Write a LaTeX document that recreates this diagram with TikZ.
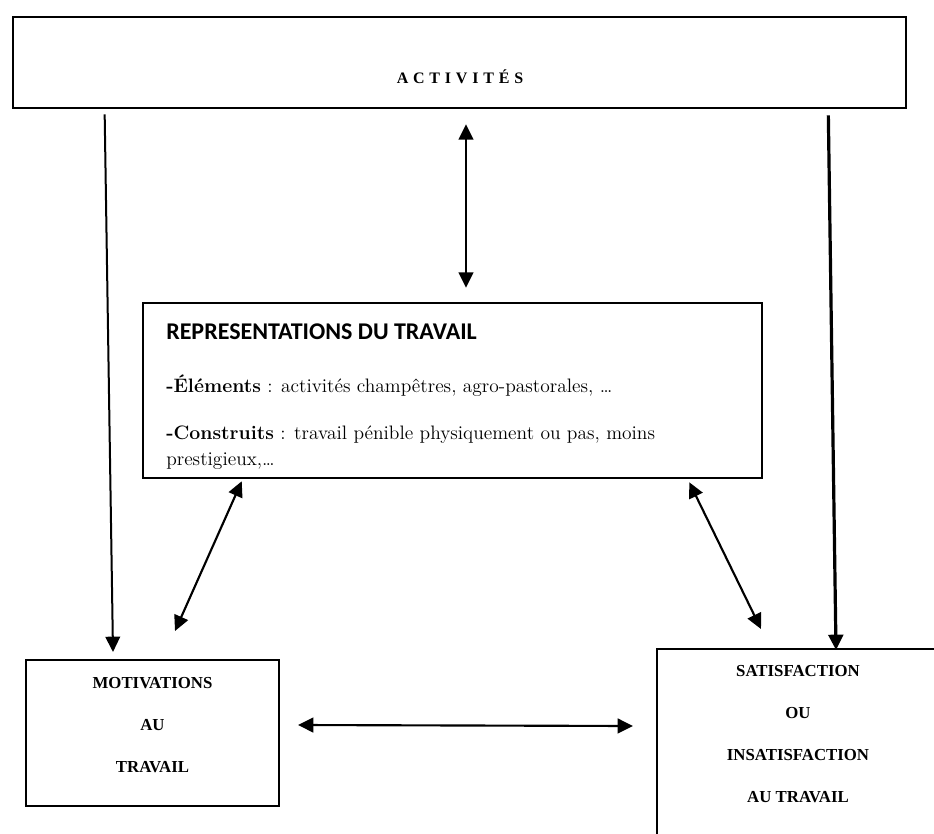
\documentclass[tikz,border=0pt]{standalone}
\usepackage{fontspec}
\newfontfamily\capsfont{Liberation Serif}
\newfontfamily\titlefont{Carlito}
\usepackage{tikz}
\usetikzlibrary{positioning,calc,arrows.meta}

\begin{document}
\begin{tikzpicture}[x=0.75pt,y=-0.75pt,
    box/.style={draw,rectangle,line width=1.5pt,inner sep=0pt},
    capstext/.style={align=center,inner sep=0pt,font=\capsfont\bfseries\fontsize{12.6}{31.5}\selectfont},
    oneway/.style={line width=1.5pt,-{Triangle[length=11.5pt,width=11pt]}},
    twoway/.style={line width=1.6pt,{Triangle[length=11.5pt,width=11pt]}-{Triangle[length=11.5pt,width=11pt]}}]
    \useasboundingbox (0,0) rectangle (934,834);
    \clip (0,0) rectangle (934,834);

    % top box
    \node[box,line width=2pt,minimum width=669.75pt,minimum height=68.25pt] (act) at (459.5,62.5) {};
    \node[inner sep=0pt,font=\capsfont\bfseries\fontsize{12}{14}\selectfont\addfontfeature{LetterSpace=30}] (acttxt) at (460,77) {ACTIVITÉS};

    % representations
    \node[box,line width=1.9pt,minimum width=464.25pt,minimum height=131.25pt] (repr) at (452.5,390.5) {};
    \node[anchor=north west,inner sep=0pt,align=left,font=\fontsize{14.6}{19.5}\selectfont] (reprtxt) at (166,323)
        {{\titlefont\bfseries\fontsize{18}{20}\selectfont REPRESENTATIONS DU TRAVAIL}\\[20.25pt]
         \textbf{-Éléments} : activités champêtres, agro-pastorales, \dots\\[15.75pt]
         \textbf{-Construits} : travail pénible physiquement ou pas, moins\\
         prestigieux,\dots};

    % bottom boxes
    \node[box,minimum width=189.75pt,minimum height=109.5pt] (mot) at (152.5,733) {};
    \node[capstext] (mottxt) at (152.5,725) {MOTIVATIONS\\AU\\TRAVAIL};
    \node[box,anchor=north west,minimum width=225pt,minimum height=150pt] (sat) at (656,648) {};
    \node[capstext] (sattxt) at (798,734) {SATISFACTION\\OU\\INSATISFACTION\\AU TRAVAIL};

    % links
    \draw[oneway] ([shift={(93,5)}]act.south west) -- ([shift={(88,-7)}]mot.north west);
    \draw[oneway,line width=2.4pt] ([shift={(-79,6)}]act.south east) -- ([shift={(180,2)}]sat.north west);
    \draw[twoway] ([shift={(6.5,15)}]act.south) -- ([shift={(13.5,-14)}]repr.north);
    \draw[twoway] ([shift={(100,2)}]repr.south west) -- ([shift={(22.5,-28)}]mot.north);
    \draw[twoway] ([shift={(-74,3)}]repr.south east) -- ([shift={(105,-19)}]sat.north west);
    \draw[twoway] ([shift={(18,-8)}]mot.east) -- ([shift={(-23,-23)}]sat.west);
\end{tikzpicture}
\end{document}
